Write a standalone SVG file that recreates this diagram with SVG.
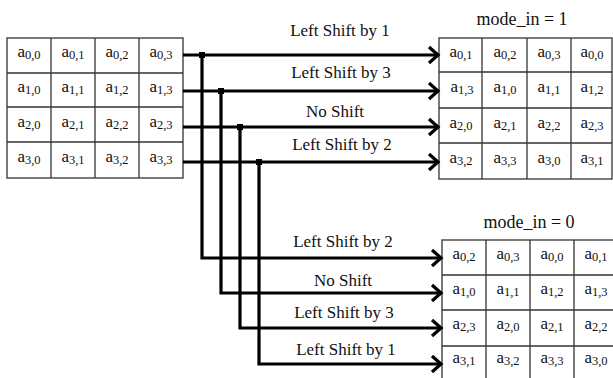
<svg xmlns="http://www.w3.org/2000/svg" width="613" height="378" viewBox="0 0 613 378">
  <style>
    .grid { fill: #ffffff; stroke: #333333; stroke-width: 1.3; }
    .gl { stroke: #333333; stroke-width: 1.3; }
    .cell { font-family: "Liberation Serif", "Times New Roman", serif; font-size: 17px; fill: #111111; text-anchor: middle; }
    .sub { font-size: 12.5px; }
    .lbl { font-family: "Liberation Serif", "Times New Roman", serif; font-size: 17px; fill: #111111; text-anchor: middle; }
    .title { font-size: 18px; }
    .arr { fill: none; stroke: #000000; stroke-width: 3.2; stroke-linejoin: miter; marker-end: url(#chev); }
  </style>
  <defs>
    <marker id="chev" markerUnits="userSpaceOnUse" markerWidth="16" markerHeight="20" refX="12" refY="10" orient="auto" viewBox="0 0 16 20">
      <polyline points="3,2 12,10 3,18" fill="none" stroke="#000000" stroke-width="3.2"/>
    </marker>
  </defs>

  <rect width="613" height="378" fill="#ffffff"/>

  <!-- input state matrix -->
  <g id="input-matrix">
    <rect class="grid" x="7" y="38" width="176" height="140"/>
    <line class="gl" x1="51" y1="38" x2="51" y2="178"/>
    <line class="gl" x1="95" y1="38" x2="95" y2="178"/>
    <line class="gl" x1="139" y1="38" x2="139" y2="178"/>
    <line class="gl" x1="7" y1="73" x2="183" y2="73"/>
    <line class="gl" x1="7" y1="107" x2="183" y2="107"/>
    <line class="gl" x1="7" y1="142" x2="183" y2="142"/>
    <text class="cell" x="29" y="57">a<tspan class="sub" dy="2">0,0</tspan></text>
    <text class="cell" x="73" y="57">a<tspan class="sub" dy="2">0,1</tspan></text>
    <text class="cell" x="117" y="57">a<tspan class="sub" dy="2">0,2</tspan></text>
    <text class="cell" x="161" y="57">a<tspan class="sub" dy="2">0,3</tspan></text>
    <text class="cell" x="29" y="92">a<tspan class="sub" dy="2">1,0</tspan></text>
    <text class="cell" x="73" y="92">a<tspan class="sub" dy="2">1,1</tspan></text>
    <text class="cell" x="117" y="92">a<tspan class="sub" dy="2">1,2</tspan></text>
    <text class="cell" x="161" y="92">a<tspan class="sub" dy="2">1,3</tspan></text>
    <text class="cell" x="29" y="127">a<tspan class="sub" dy="2">2,0</tspan></text>
    <text class="cell" x="73" y="127">a<tspan class="sub" dy="2">2,1</tspan></text>
    <text class="cell" x="117" y="127">a<tspan class="sub" dy="2">2,2</tspan></text>
    <text class="cell" x="161" y="127">a<tspan class="sub" dy="2">2,3</tspan></text>
    <text class="cell" x="29" y="162">a<tspan class="sub" dy="2">3,0</tspan></text>
    <text class="cell" x="73" y="162">a<tspan class="sub" dy="2">3,1</tspan></text>
    <text class="cell" x="117" y="162">a<tspan class="sub" dy="2">3,2</tspan></text>
    <text class="cell" x="161" y="162">a<tspan class="sub" dy="2">3,3</tspan></text>
  </g>

  <!-- output matrix, mode_in = 1 -->
  <g id="output-mode1">
    <text class="lbl title" x="522" y="25">mode_in = 1</text>
    <rect class="grid" x="439" y="38" width="173" height="141"/>
    <line class="gl" x1="482" y1="38" x2="482" y2="179"/>
    <line class="gl" x1="527" y1="38" x2="527" y2="179"/>
    <line class="gl" x1="571" y1="38" x2="571" y2="179"/>
    <line class="gl" x1="439" y1="72" x2="612" y2="72"/>
    <line class="gl" x1="439" y1="108" x2="612" y2="108"/>
    <line class="gl" x1="439" y1="143" x2="612" y2="143"/>
    <text class="cell" x="461" y="57">a<tspan class="sub" dy="2">0,1</tspan></text>
    <text class="cell" x="505" y="57">a<tspan class="sub" dy="2">0,2</tspan></text>
    <text class="cell" x="549" y="57">a<tspan class="sub" dy="2">0,3</tspan></text>
    <text class="cell" x="592" y="57">a<tspan class="sub" dy="2">0,0</tspan></text>
    <text class="cell" x="462" y="92">a<tspan class="sub" dy="2">1,3</tspan></text>
    <text class="cell" x="505" y="92">a<tspan class="sub" dy="2">1,0</tspan></text>
    <text class="cell" x="549" y="92">a<tspan class="sub" dy="2">1,1</tspan></text>
    <text class="cell" x="592" y="92">a<tspan class="sub" dy="2">1,2</tspan></text>
    <text class="cell" x="461" y="128">a<tspan class="sub" dy="2">2,0</tspan></text>
    <text class="cell" x="505" y="128">a<tspan class="sub" dy="2">2,1</tspan></text>
    <text class="cell" x="549" y="128">a<tspan class="sub" dy="2">2,2</tspan></text>
    <text class="cell" x="592" y="128">a<tspan class="sub" dy="2">2,3</tspan></text>
    <text class="cell" x="461" y="163">a<tspan class="sub" dy="2">3,2</tspan></text>
    <text class="cell" x="505" y="163">a<tspan class="sub" dy="2">3,3</tspan></text>
    <text class="cell" x="549" y="163">a<tspan class="sub" dy="2">3,0</tspan></text>
    <text class="cell" x="592" y="163">a<tspan class="sub" dy="2">3,1</tspan></text>
  </g>

  <!-- output matrix, mode_in = 0 -->
  <g id="output-mode0">
    <text class="lbl title" x="529" y="228">mode_in = 0</text>
    <rect class="grid" x="442" y="240" width="180" height="150"/>
    <line class="gl" x1="486" y1="240" x2="486" y2="390"/>
    <line class="gl" x1="530" y1="240" x2="530" y2="390"/>
    <line class="gl" x1="574" y1="240" x2="574" y2="390"/>
    <line class="gl" x1="442" y1="275" x2="622" y2="275"/>
    <line class="gl" x1="442" y1="310" x2="622" y2="310"/>
    <line class="gl" x1="442" y1="346" x2="622" y2="346"/>
    <text class="cell" x="464" y="259">a<tspan class="sub" dy="2">0,2</tspan></text>
    <text class="cell" x="508" y="259">a<tspan class="sub" dy="2">0,3</tspan></text>
    <text class="cell" x="552" y="259">a<tspan class="sub" dy="2">0,0</tspan></text>
    <text class="cell" x="596" y="259">a<tspan class="sub" dy="2">0,1</tspan></text>
    <text class="cell" x="464" y="294">a<tspan class="sub" dy="2">1,0</tspan></text>
    <text class="cell" x="508" y="294">a<tspan class="sub" dy="2">1,1</tspan></text>
    <text class="cell" x="552" y="294">a<tspan class="sub" dy="2">1,2</tspan></text>
    <text class="cell" x="596" y="294">a<tspan class="sub" dy="2">1,3</tspan></text>
    <text class="cell" x="464" y="329">a<tspan class="sub" dy="2">2,3</tspan></text>
    <text class="cell" x="508" y="329">a<tspan class="sub" dy="2">2,0</tspan></text>
    <text class="cell" x="552" y="329">a<tspan class="sub" dy="2">2,1</tspan></text>
    <text class="cell" x="596" y="329">a<tspan class="sub" dy="2">2,2</tspan></text>
    <text class="cell" x="464" y="363">a<tspan class="sub" dy="2">3,1</tspan></text>
    <text class="cell" x="508" y="363">a<tspan class="sub" dy="2">3,2</tspan></text>
    <text class="cell" x="552" y="363">a<tspan class="sub" dy="2">3,3</tspan></text>
    <text class="cell" x="596" y="363">a<tspan class="sub" dy="2">3,0</tspan></text>
  </g>

  <!-- row connectors: straight paths to mode 1, branched paths to mode 0 -->
  <g id="connectors">
    <line class="arr" x1="183" y1="55" x2="438" y2="55"/>
    <line class="arr" x1="183" y1="91" x2="438" y2="91"/>
    <line class="arr" x1="183" y1="127" x2="438" y2="127"/>
    <line class="arr" x1="183" y1="162" x2="438" y2="162"/>

    <polyline class="arr" points="202,55 202,258 441,258"/>
    <polyline class="arr" points="221,91 221,293 441,293"/>
    <polyline class="arr" points="240,127 240,328 441,328"/>
    <polyline class="arr" points="259,162 259,364 441,364"/>

    <!-- branch junctions -->
    <rect x="199" y="52" width="6" height="6" fill="#000000"/>
    <rect x="218" y="88" width="6" height="6" fill="#000000"/>
    <rect x="237" y="124" width="6" height="6" fill="#000000"/>
    <rect x="256" y="159" width="6" height="6" fill="#000000"/>

    <text class="lbl" x="340" y="36">Left Shift by 1</text>
    <text class="lbl" x="341" y="78">Left Shift by 3</text>
    <text class="lbl" x="335" y="117">No Shift</text>
    <text class="lbl" x="342" y="150">Left Shift by 2</text>

    <text class="lbl" x="343" y="247">Left Shift by 2</text>
    <text class="lbl" x="343" y="286">No Shift</text>
    <text class="lbl" x="344" y="318">Left Shift by 3</text>
    <text class="lbl" x="346" y="355">Left Shift by 1</text>
  </g>
</svg>
